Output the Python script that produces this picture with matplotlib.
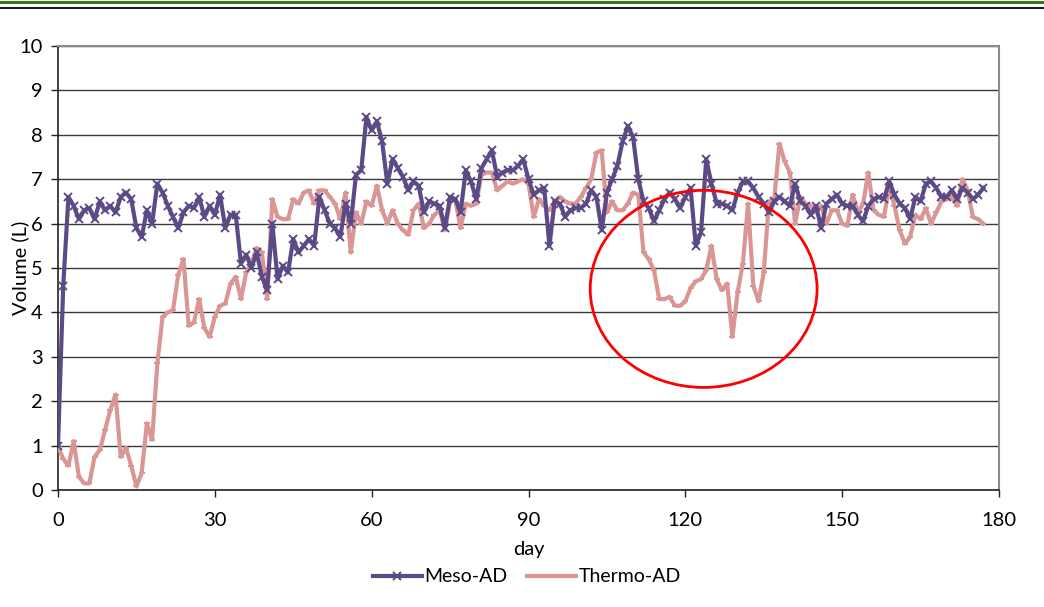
import matplotlib
matplotlib.use("Agg")
import matplotlib.pyplot as plt
from matplotlib.lines import Line2D
from matplotlib.patches import Ellipse
import numpy as np

days = list(range(178))

meso_ad = [
    1.0, 4.6, 6.6, 6.4, 6.1, 6.3, 6.35, 6.1, 6.5, 6.3,
    6.4, 6.25, 6.6, 6.7, 6.55, 5.9, 5.7, 6.3, 6.0, 6.9,
    6.7, 6.4, 6.15, 5.9, 6.25, 6.4, 6.35, 6.6, 6.15, 6.4,
    6.2, 6.65, 5.9, 6.2, 6.2, 5.1, 5.3, 5.0, 5.35, 4.8,
    4.5, 6.0, 4.75, 5.05, 4.9, 5.65, 5.35, 5.5, 5.65, 5.5,
    6.6, 6.3, 6.0, 5.9, 5.7, 6.45, 6.0, 7.1, 7.2, 8.4,
    8.1, 8.3, 7.85, 6.9, 7.45, 7.25, 7.05, 6.75, 6.95, 6.85,
    6.25, 6.5, 6.45, 6.4, 5.9, 6.6, 6.55, 6.25, 7.2, 6.95,
    6.55, 7.25, 7.45, 7.65, 7.05, 7.15, 7.2, 7.2, 7.3, 7.45,
    7.0, 6.65, 6.75, 6.8, 5.5, 6.5, 6.45, 6.15, 6.3, 6.35,
    6.35, 6.45, 6.75, 6.6, 5.85, 6.7, 7.0, 7.3, 7.85, 8.2,
    7.95, 7.0, 6.5, 6.35, 6.05, 6.3, 6.55, 6.7, 6.55, 6.35,
    6.6, 6.8, 5.5, 5.8, 7.45, 6.9, 6.45, 6.45, 6.4, 6.3,
    6.7, 6.95, 6.95, 6.8, 6.6, 6.45, 6.25, 6.5, 6.6, 6.5,
    6.4, 6.9, 6.5, 6.4, 6.2, 6.4, 5.9, 6.45, 6.55, 6.65,
    6.45, 6.4, 6.4, 6.2, 6.05, 6.4, 6.55, 6.6, 6.55, 6.95,
    6.65, 6.45, 6.35, 6.1, 6.6, 6.5, 6.9, 6.95, 6.8, 6.6,
    6.6, 6.75, 6.55, 6.8, 6.7, 6.55, 6.65, 6.8,
]

thermo_ad = [
    0.98, 0.7, 0.55, 1.1, 0.3, 0.15, 0.15, 0.75, 0.9, 1.35,
    1.8, 2.15, 0.75, 0.95, 0.55, 0.08, 0.38, 1.5, 1.13, 2.85,
    3.9, 4.0, 4.05, 4.85, 5.2, 3.7, 3.77, 4.3, 3.65, 3.45,
    3.9, 4.15, 4.2, 4.65, 4.8, 4.3, 4.9, 5.1, 5.45, 5.35,
    4.3, 6.55, 6.15, 6.1, 6.1, 6.55, 6.45, 6.7, 6.75, 6.45,
    6.75, 6.75, 6.6, 6.45, 6.1, 6.7, 5.35, 6.25, 6.0, 6.5,
    6.4, 6.85, 6.3, 6.0, 6.3, 6.0, 5.85, 5.75, 6.3, 6.45,
    5.9, 6.0, 6.2, 6.3, 5.85, 6.5, 6.55, 5.9, 6.45, 6.4,
    6.45, 7.1, 7.15, 7.15, 6.75, 6.85, 6.95, 6.9, 6.95, 7.0,
    6.9, 6.15, 6.55, 6.4, 6.3, 6.5, 6.6, 6.5, 6.45, 6.45,
    6.6, 6.8, 7.0, 7.6, 7.65, 6.25, 6.5, 6.3, 6.3, 6.45,
    6.7, 6.65, 5.35, 5.2, 4.95, 4.3, 4.3, 4.35, 4.15, 4.15,
    4.25, 4.55, 4.7, 4.75, 4.95, 5.5, 4.75, 4.5, 4.65, 3.45,
    4.45, 5.1, 6.45, 4.6, 4.25, 4.9, 6.5, 6.55, 7.8, 7.4,
    7.15, 6.0, 6.6, 6.45, 6.4, 6.25, 6.4, 6.0, 6.3, 6.3,
    6.0, 5.95, 6.65, 6.25, 6.45, 7.15, 6.3, 6.2, 6.15, 6.85,
    6.4, 5.85, 5.55, 5.7, 6.2, 6.1, 6.35, 6.0, 6.25, 6.5,
    6.55, 6.6, 6.4, 7.0, 6.75, 6.15, 6.1, 6.0,
]

x_ticks = [0, 30, 60, 90, 120, 150, 180]
y_ticks = list(range(0, 11))

# highlighted region (ellipse) in data units
ellipse_center = (123.5, 4.53)
ellipse_size = (43.4, 4.44)

plt.rcParams['font.family'] = ['Lato', 'DejaVu Sans']

W, H = 1044, 607
fig = plt.figure(figsize=(W / 100, H / 100), dpi=100)
ax = fig.add_axes([58 / W, 1 - 490 / H, (999 - 58) / W, (490 - 46) / H])

meso_color = '#5B4A86'
thermo_color = '#DA9694'

ax.plot(days, thermo_ad, color=thermo_color, lw=3.0, marker='_', ms=5,
        mew=1.5, label='Thermo-AD', zorder=3, solid_joinstyle='round')
ax.plot(days, meso_ad, color=meso_color, lw=3.0, marker='x', ms=6,
        mew=1.4, label='Meso-AD', zorder=4, solid_joinstyle='round')

ell = Ellipse(ellipse_center, ellipse_size[0], ellipse_size[1], fill=False,
              edgecolor='#FF0000', lw=2.0, zorder=5)
ax.add_patch(ell)

ax.set_xlim(0, 180)
ax.set_ylim(0, 10)
ax.set_xticks(x_ticks)
ax.set_yticks(y_ticks)
ax.yaxis.grid(True, color='#3a3a3a', lw=1.0)
ax.set_axisbelow(True)

for s in ['left', 'bottom']:
    ax.spines[s].set_color('#222222')
    ax.spines[s].set_linewidth(1.2)
for s in ['right', 'top']:
    ax.spines[s].set_color('#8c8c8c')
    ax.spines[s].set_linewidth(1.5)

ax.tick_params(axis='both', direction='out', length=5, width=1,
               color='#222222', labelsize=14.5, pad=6)
ax.tick_params(axis='x', pad=11)

ax.set_xlabel('day', fontsize=14.5)
ax.set_ylabel('Volume (L)', fontsize=14.5)
ax.xaxis.set_label_coords(0.5, -(550 - 490) / (490 - 46), transform=ax.transAxes)
ax.yaxis.set_label_coords(-(58 - 20) / (999 - 58), 0.5, transform=ax.transAxes)
ax.xaxis.label.set_va('center')
ax.yaxis.label.set_va('center')

h, l = ax.get_legend_handles_labels()
order = [1, 0]
leg = fig.legend([h[i] for i in order], [l[i] for i in order], loc='center',
                 bbox_to_anchor=(527 / W, 1 - 577 / H), ncol=2, frameon=False,
                 fontsize=14, handlelength=2.5, handletextpad=0.15,
                 columnspacing=1.0, markerscale=1.0)

fig.add_artist(Line2D([0, 1], [1 - 1.5 / H, 1 - 1.5 / H], color='#2E6B00', lw=2.0))
fig.add_artist(Line2D([0, 1], [1 - 7.5 / H, 1 - 7.5 / H], color='#1a1a1a', lw=1.5))

fig.savefig('out.png', dpi=100)
